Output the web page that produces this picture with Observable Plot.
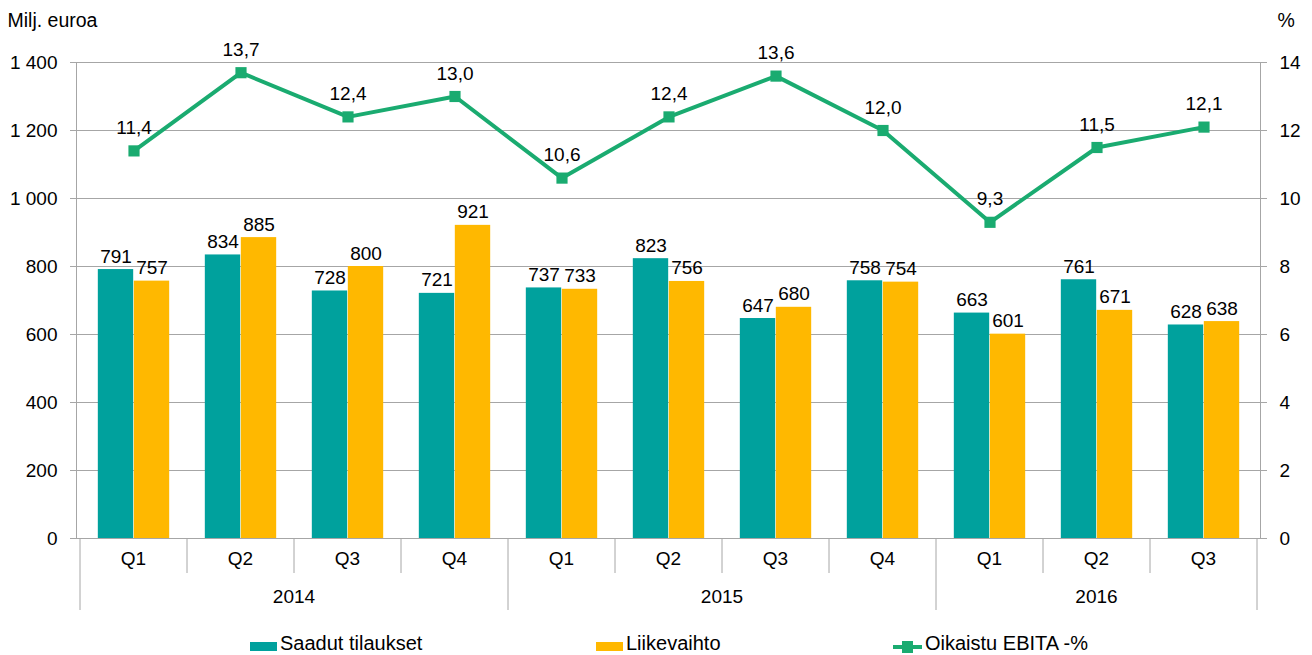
<!DOCTYPE html>
<html>
<head>
<meta charset="utf-8">
<script src="https://cdn.jsdelivr.net/npm/d3@7"></script>
<script src="https://cdn.jsdelivr.net/npm/@observablehq/plot@0.6"></script>
<style>
  body { margin: 0; background: #fff; font-family: "Liberation Sans", Arial, sans-serif; color: #000; }
  #wrap { position: relative; width: 1312px; height: 655px; }
  #chart svg { display: block; }
  .item { position: absolute; top: 632px; height: 22px; line-height: 22px; display: flex; align-items: flex-start; font-size: 20px; white-space: nowrap; }
  .sw { width: 27px; height: 9px; margin-top: 10px; margin-right: 3px; }
  .ln { position: relative; width: 29px; height: 12px; margin-top: 9px; margin-right: 3px; }
  .ln::before { content: ""; position: absolute; left: 0; right: 0; top: 4px; height: 4px; background: #1aab70; }
  .ln::after { content: ""; position: absolute; left: 9px; top: 0; width: 11px; height: 12px; background: #1aab70; }
</style>
</head>
<body>
<div id="wrap">
  <div id="chart"></div>
  <div class="item" style="left:250px"><div class="sw" style="background:#00a19d"></div><span>Saadut tilaukset</span></div>
  <div class="item" style="left:596px"><div class="sw" style="background:#ffb800"></div><span>Liikevaihto</span></div>
  <div class="item" style="left:893px"><div class="ln"></div><span>Oikaistu EBITA -%</span></div>
</div>
<script>
// ---- data ----
const years    = ["2014","2014","2014","2014","2015","2015","2015","2015","2016","2016","2016"];
const quarters = ["Q1","Q2","Q3","Q4","Q1","Q2","Q3","Q4","Q1","Q2","Q3"];
const orders   = [791, 834, 728, 721, 737, 823, 647, 758, 663, 761, 628];   // Saadut tilaukset
const revenue  = [757, 885, 800, 921, 733, 756, 680, 754, 601, 671, 638];   // Liikevaihto
const ebita    = [11.4, 13.7, 12.4, 13.0, 10.6, 12.4, 13.6, 12.0, 9.3, 11.5, 12.1]; // Oikaistu EBITA -%
const leftTicks  = [0, 200, 400, 600, 800, 1000, 1200, 1400];
const rightTicks = [0, 2, 4, 6, 8, 10, 12, 14];
const leftTitle = "Milj. euroa";
const rightTitle = "%";

// ---- styles ----
const TEAL = "#00a19d", ORANGE = "#ffb800", GREEN = "#1aab70", GRID = "#a6a6a6";
const FONT = "Liberation Sans, Arial, sans-serif";
const W = 1312, H = 620, ML = 76, MR = 52, MT = 62, MB = 82;
const pctFactor = leftTicks[leftTicks.length - 1] / rightTicks[rightTicks.length - 1];

const keys = years.map((y, i) => y + " " + quarters[i]);
const table = keys.map((k, i) => ({key: k, year: years[i], quarter: quarters[i], orders: orders[i], revenue: revenue[i], ebita: ebita[i]}));

const bw = (W - ML - MR) / keys.length;
const barW = 36;
const gap = (bw - 2 * barW) / 2;

const fmtLeft = d => d3.format(",")(d).replace(/,/g, " ");
const fmtPct = d => d.toFixed(1).replace(".", ",");

// hierarchical category axis (quarters / years) drawn from the x scale
function categoryAxis(index, scales, values, dimensions) {
  const x = scales.x;
  const b = x.bandwidth ? x.bandwidth() : bw;
  const y0 = dimensions.height - dimensions.marginBottom;
  const g = d3.create("svg:g").attr("font-family", FONT).attr("font-size", 19).attr("fill", "#000");
  const yearGroups = d3.groups(table, d => d.year);
  keys.forEach((k, i) => {
    const left = x(k);
    const isYearStart = i === 0 || table[i].year !== table[i - 1].year;
    g.append("line").attr("x1", left).attr("x2", left).attr("y1", y0).attr("y2", y0 + (isYearStart ? 72 : 35))
      .attr("stroke", GRID).attr("stroke-width", 1);
    g.append("text").attr("x", left + b / 2).attr("y", y0 + 27).attr("text-anchor", "middle").text(table[i].quarter);
  });
  const last = x(keys[keys.length - 1]) + b;
  g.append("line").attr("x1", last).attr("x2", last).attr("y1", y0).attr("y2", y0 + 72).attr("stroke", GRID);
  yearGroups.forEach(([yr, rows]) => {
    const a = x(rows[0].key), e = x(rows[rows.length - 1].key) + b;
    g.append("text").attr("x", (a + e) / 2).attr("y", y0 + 65).attr("text-anchor", "middle").text(yr);
  });
  return g.node();
}

const chart = Plot.plot({
  width: W, height: H,
  marginLeft: ML, marginRight: MR, marginTop: MT, marginBottom: MB,
  style: {fontFamily: FONT, fontSize: "19px", background: "#fff", color: "#000"},
  x: {type: "band", domain: keys, padding: 0, axis: null},
  y: {domain: [0, 1400], axis: null},
  marks: [
    Plot.gridY(leftTicks, {stroke: GRID, strokeOpacity: 1, strokeWidth: 1}),
    Plot.frame({stroke: GRID, strokeWidth: 1}),
    Plot.axisY(leftTicks, {anchor: "left", tickSize: 6, tickPadding: 13, tickFormat: fmtLeft, stroke: GRID, fill: "#000", fontSize: 19, label: null}),
    Plot.axisY(rightTicks.map(v => v * pctFactor), {anchor: "right", tickSize: 6, tickPadding: 13, tickFormat: d => String(d / pctFactor), stroke: GRID, fill: "#000", fontSize: 19, label: null}),
    Plot.barY(table, {x: "key", y: "orders", fill: TEAL, insetLeft: gap, insetRight: gap + barW}),
    Plot.barY(table, {x: "key", y: "revenue", fill: ORANGE, insetLeft: gap + barW, insetRight: gap}),
    Plot.text(table, {x: "key", y: "orders", text: d => String(d.orders), dx: -barW / 2, dy: -7, lineAnchor: "bottom", fontSize: 19, fill: "#000"}),
    Plot.text(table, {x: "key", y: "revenue", text: d => String(d.revenue), dx: barW / 2, dy: -7, lineAnchor: "bottom", fontSize: 19, fill: "#000"}),
    Plot.line(table, {x: "key", y: d => d.ebita * pctFactor, stroke: GREEN, strokeWidth: 4}),
    Plot.dot(table, {x: "key", y: d => d.ebita * pctFactor, symbol: "square", r: 6.3, fill: GREEN, stroke: null}),
    Plot.text(table, {x: "key", y: d => d.ebita * pctFactor, text: d => fmtPct(d.ebita), dy: -17, lineAnchor: "bottom", fontSize: 19, fill: "#000"}),
    Plot.text([leftTitle], {frameAnchor: "top-left", text: d => d, textAnchor: "start", lineAnchor: "bottom", dx: -69, dy: -36, fontSize: 19.5, fill: "#000"}),
    Plot.text([rightTitle], {frameAnchor: "top-right", text: d => d, textAnchor: "start", lineAnchor: "bottom", dx: 17, dy: -36, fontSize: 19.5, fill: "#000"}),
    categoryAxis
  ]
});
document.getElementById("chart").appendChild(chart);
</script>
</body>
</html>
